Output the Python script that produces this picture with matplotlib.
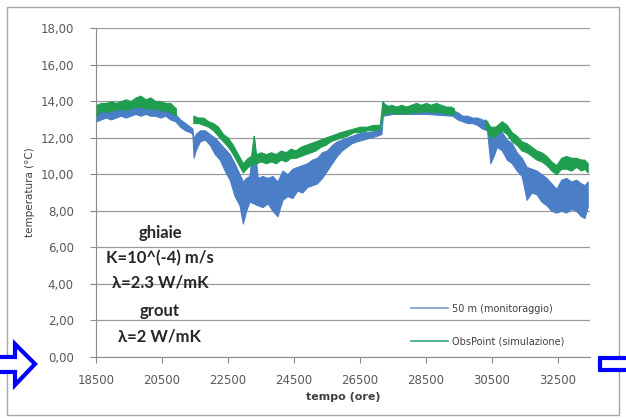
import numpy as np
import matplotlib
matplotlib.use("Agg")
import matplotlib.pyplot as plt
from matplotlib.lines import Line2D
from matplotlib.patches import Polygon, Rectangle

plt.rcParams['font.family'] = ['DejaVu Sans']

# 50 m (monitoraggio): time (ore), band low / high (C)
mon_t = [18520, 18650, 18800, 18950, 19100, 19250, 19400, 19550, 19700, 19850,
         20000, 20150, 20300, 20450, 20600, 20750, 20900, 21050, 21200, 21350,
         21420, 21460, 21520, 21650, 21800, 21950, 22100, 22250, 22400, 22550,
         22700, 22850, 22950, 23050, 23150, 23280, 23400, 23550, 23700, 23850,
         24000, 24150, 24300, 24450, 24600, 24750, 24900, 25050, 25200, 25350,
         25500, 25650, 25800, 25950, 26100, 26250, 26400, 26600, 26800, 27000,
         27150, 27190, 27500, 28500, 29300, 29450, 29600, 29750, 29900, 30050,
         30200, 30350, 30450, 30550, 30650, 30800, 30950, 31100, 31250, 31400,
         31550, 31700, 31850, 32000, 32150, 32300, 32450, 32600, 32750, 32900,
         33050, 33200, 33300, 33400]
mon_lo = [12.9, 13.0, 13.1, 13.0, 13.1, 13.2, 13.1, 13.2, 13.3, 13.2,
          13.3, 13.2, 13.2, 13.1, 13.2, 13.0, 12.9, 12.6, 12.4, 12.3,
          12.2, 10.9, 11.3, 11.8, 11.9, 11.6, 11.1, 10.8, 10.2, 9.7,
          8.8, 8.3, 7.3, 8.0, 8.5, 8.4, 8.3, 8.2, 8.4, 8.0,
          7.7, 8.6, 8.8, 8.7, 9.1, 9.0, 9.3, 9.4, 9.5, 9.8,
          10.2, 10.6, 11.0, 11.3, 11.5, 11.7, 11.8, 11.9, 12.0, 12.1,
          12.2, 13.2, 13.3, 13.3, 13.2, 13.0, 12.9, 12.8, 12.8, 12.7,
          12.5, 12.4, 10.6, 11.0, 11.5, 11.3, 10.8, 10.6, 10.2, 9.9,
          8.6, 9.0, 8.9, 8.5, 8.3, 8.0, 7.9, 8.0, 7.9, 8.1,
          8.0, 7.7, 7.6, 8.2]
mon_hi = [13.4, 13.6, 13.5, 13.6, 13.5, 13.7, 13.6, 13.7, 13.8, 13.7,
          13.8, 13.7, 13.8, 13.6, 13.6, 13.5, 13.3, 13.0, 12.8, 12.6,
          12.5, 11.9, 12.2, 12.4, 12.4, 12.2, 12.0, 11.7, 11.4, 11.1,
          10.6, 10.0, 9.6, 9.8, 9.9, 12.1, 9.8, 9.9, 9.8, 9.9,
          9.6, 10.2, 10.0, 10.3, 10.4, 10.5, 10.6, 10.8, 10.9, 11.2,
          11.3, 11.6, 11.8, 11.9, 12.0, 12.1, 12.2, 12.3, 12.3, 12.4,
          12.6, 13.9, 13.6, 13.6, 13.5, 13.4, 13.2, 13.2, 13.1, 13.1,
          13.0, 12.9, 12.4, 12.1, 12.6, 12.3, 11.9, 11.7, 11.2, 10.9,
          10.4, 10.3, 10.2, 10.0, 9.8, 9.5, 9.2, 9.7, 9.8, 9.6,
          9.7, 9.5, 9.4, 9.6]

# ObsPoint (simulazione), three pieces
sim_t = [[18520, 18650, 18800, 18950, 19100, 19250, 19400, 19550, 19700, 19850,
          20000, 20150, 20300, 20450, 20600, 20750, 20920],
         [21450, 21600, 21750, 21900, 22050, 22200, 22350, 22500, 22650, 22800,
          22950, 23100, 23200, 23280, 23350, 23500, 23650, 23800, 23950, 24100,
          24250, 24400, 24550, 24700, 24850, 25000, 25150, 25300, 25450, 25600,
          25750, 25900, 26100, 26300, 26500, 26700, 26900, 27100, 27180, 27300,
          27450, 27600, 27750, 27900, 28050, 28200, 28350, 28500, 28650, 28800,
          28950, 29100, 29250, 29350],
         [30300, 30450, 30600, 30800, 30950, 31100, 31250, 31400, 31550, 31700,
          31850, 32000, 32150, 32300, 32450, 32600, 32750, 32900, 33050, 33200,
          33300, 33400]]
sim_lo = [[13.2, 13.5, 13.4, 13.5, 13.5, 13.6, 13.5, 13.6, 13.7, 13.7,
           13.6, 13.6, 13.6, 13.5, 13.5, 13.4, 13.2],
          [12.8, 12.8, 12.7, 12.6, 12.4, 12.1, 11.8, 11.5, 11.1, 10.6,
           10.1, 10.4, 10.5, 10.6, 10.6, 10.7, 10.6, 10.7, 10.6, 10.8,
           10.7, 10.9, 10.9, 11.0, 11.1, 11.2, 11.3, 11.5, 11.6, 11.8,
           11.9, 12.0, 12.1, 12.3, 12.3, 12.4, 12.4, 12.5, 13.3, 13.3,
           13.4, 13.3, 13.4, 13.3, 13.4, 13.4, 13.4, 13.5, 13.4, 13.4,
           13.4, 13.3, 13.3, 13.3],
          [12.6, 12.0, 12.1, 12.4, 12.2, 11.8, 11.6, 11.3, 11.2, 11.0,
           10.8, 10.7, 10.5, 10.2, 10.0, 10.3, 10.3, 10.2, 10.4, 10.2,
           10.3, 10.1]]
sim_hi = [[13.8, 13.9, 13.9, 14.0, 13.9, 14.0, 14.1, 14.0, 14.2, 14.3,
           14.1, 14.2, 14.0, 14.0, 13.9, 13.9, 13.6],
          [13.2, 13.1, 13.1, 12.9, 12.8, 12.6, 12.2, 12.0, 11.6, 11.1,
           10.6, 10.9, 11.0, 12.1, 11.1, 11.2, 11.1, 11.2, 11.1, 11.3,
           11.2, 11.4, 11.3, 11.5, 11.6, 11.7, 11.8, 11.9, 12.0, 12.1,
           12.2, 12.3, 12.4, 12.5, 12.6, 12.6, 12.7, 12.7, 14.0, 13.7,
           13.8, 13.7, 13.8, 13.7, 13.8, 13.9, 13.8, 13.9, 13.8, 13.9,
           13.8, 13.7, 13.7, 13.6],
          [13.0, 12.6, 12.6, 12.9, 12.7, 12.3, 12.1, 11.8, 11.7, 11.5,
           11.3, 11.2, 11.0, 10.7, 10.5, 10.9, 11.0, 10.9, 10.9, 10.8,
           10.8, 10.6]]

x_ticks = [18500, 20500, 22500, 24500, 26500, 28500, 30500, 32500]
y_ticks = [0, 2, 4, 6, 8, 10, 12, 14, 16, 18]
note_lines = ["ghiaie", "K=10^(-4) m/s", "\u03bb=2.3 W/mK", "grout", "\u03bb=2 W/mK"]
note_y = [233, 258, 283, 311, 336]

c_mon = "#4a7ec6"
c_sim = "#1e9e4e"

fig = plt.figure(figsize=(6.26, 4.18), dpi=100)
ax = fig.add_axes([96/626, 1-357/418, 494/626, 329/418])

ax.fill_between(mon_t, mon_lo, mon_hi, color=c_mon, lw=0.8, edgecolor=c_mon, zorder=3)
for t, lo, hi in zip(sim_t, sim_lo, sim_hi):
    ax.fill_between(t, lo, hi, color=c_sim, lw=0.8, edgecolor=c_sim, zorder=4)

ax.set_xlim(18500, 33470)
ax.set_ylim(0, 18)
ax.set_xticks(x_ticks)
ax.set_yticks(y_ticks)
ax.set_yticklabels([("%.2f" % v).replace(".", ",") for v in y_ticks])
ax.yaxis.grid(True, color="#9a9a9a", lw=0.9)
ax.set_axisbelow(True)
for s in ["top", "right"]:
    ax.spines[s].set_visible(False)
for s in ["left", "bottom"]:
    ax.spines[s].set_color("#8c8c8c")
ax.tick_params(axis="both", colors="#8c8c8c", labelcolor="#595959", labelsize=8.5,
               direction="out", length=4)
ax.tick_params(axis="x", pad=8)
ax.tick_params(axis="y", pad=12)

ax.set_ylabel("temperatura (\u00b0C)", fontsize=7.5, color="#404040", labelpad=4)
ax.set_xlabel("tempo (ore)", fontsize=8, fontweight="bold", color="#404040", labelpad=4)

# annotation block
for s, y in zip(note_lines, note_y):
    fig.text(160/626, 1-y/418, s, ha="center", va="center", fontsize=12,
             fontweight="bold", color="#262626", family="Lato")

handles = [Line2D([], [], color="#7d9bd0", lw=1.2),
           Line2D([], [], color="#3aa57a", lw=1.2)]
fig.legend(handles, ["50 m (monitoraggio)", "ObsPoint (simulazione)"],
           loc="center left", bbox_to_anchor=(402/626, 1-325/418), frameon=False,
           fontsize=7, labelspacing=2.3, handlelength=3.8, handletextpad=0.4,
           labelcolor="#404040")

# outer frame
fig.patches.append(Rectangle((7/626, 1-415/418), 612/626, 408/418, transform=fig.transFigure,
                             fill=False, edgecolor="#a6a6a6", lw=1.0))
# blue markers
arrow = [(-3, 357), (15, 357), (15, 344), (35, 364), (15, 385), (15, 372), (-3, 372)]
fig.patches.append(Polygon([(x/626, 1-y/418) for x, y in arrow], closed=True,
                           transform=fig.transFigure, facecolor="white",
                           edgecolor="#0000ff", lw=3))
fig.patches.append(Rectangle((600/626, 1-370/418), 30/626, 12/418, transform=fig.transFigure,
                             facecolor="white", edgecolor="#0000ff", lw=3))

fig.savefig("out.png", dpi=100)
